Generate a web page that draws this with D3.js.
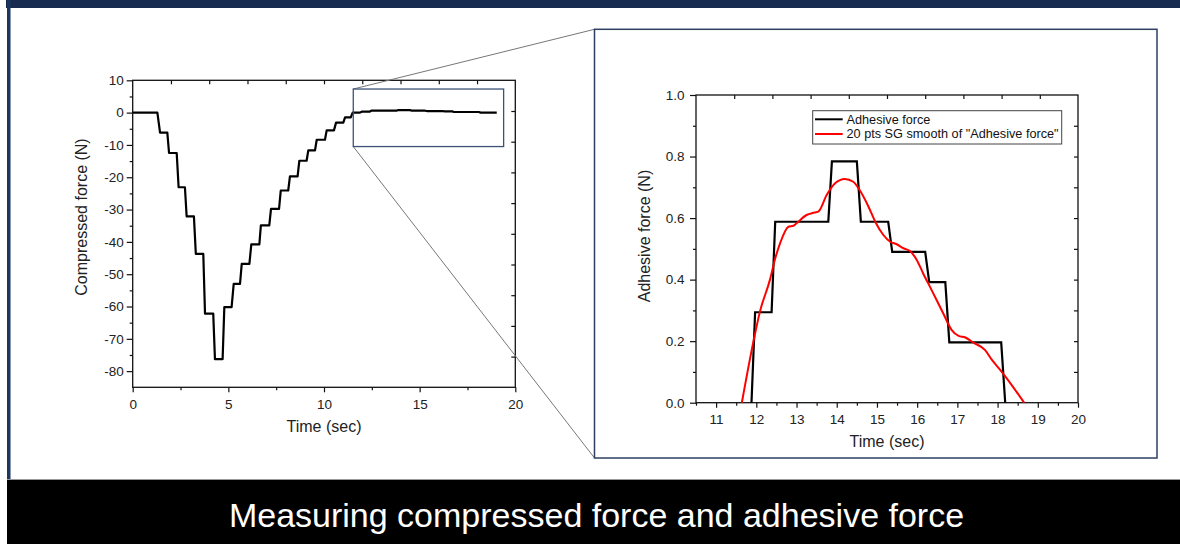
<!DOCTYPE html>
<html><head><meta charset="utf-8">
<script src="https://cdn.jsdelivr.net/npm/d3@7"></script>
<style>
html,body{margin:0;padding:0;background:#fff;}
svg{display:block;font-family:"Liberation Sans",Arial,sans-serif;}
</style></head><body>
<svg id="c" width="1180" height="544"></svg>
<script>
// ---------- data ----------
const compTime = [0,1.29,1.43,1.81,1.9,2.3,2.4,2.73,2.82,3.2,3.3,3.69,3.78,4.21,4.3,4.7,4.79,5.17,5.28,5.61,5.7,6.1,6.2,6.62,6.7,7.14,7.23,7.65,7.74,8.13,8.22,8.62,8.71,9.09,9.18,9.53,9.62,10.05,10.14,10.52,10.63,11.01,11.1,11.4,11.5];
const compForce = [0,0,-6.2,-6.2,-12.5,-12.5,-23.1,-23.1,-32.1,-32.1,-43.7,-43.7,-62.2,-62.2,-76.3,-76.3,-60.2,-60.2,-53,-53,-46.8,-46.8,-40.8,-40.8,-34.9,-34.9,-29.8,-29.8,-24.1,-24.1,-19.7,-19.7,-14.9,-14.9,-11.7,-11.7,-8.4,-8.4,-5.5,-5.5,-3.1,-3.1,-1.5,-1.5,0];
const compEndTime = [19.03];
const compEndForce = [0];

const adhTime = [11.88,11.97,12.38,12.47,13.79,13.88,14.5,14.6,15.28,15.38,16.2,16.3,16.7,16.8,18.09,18.19];
const adhForce = [0,0.294,0.294,0.588,0.588,0.784,0.784,0.588,0.588,0.49,0.49,0.392,0.392,0.196,0.196,0];

const smoothTime = [11.64,11.93,12.09,12.34,12.46,12.59,12.8,12.92,13.0,13.25,13.45,13.55,13.75,13.96,14.2,14.41,14.57,14.79,14.97,15.16,15.33,15.49,15.66,15.82,15.99,16.15,16.36,16.65,16.86,17.03,17.2,17.4,17.69,17.86,18.07,18.32,18.66];
const smoothForce = [0,0.2,0.296,0.40,0.464,0.518,0.572,0.575,0.583,0.61,0.618,0.622,0.675,0.713,0.727,0.718,0.691,0.637,0.585,0.545,0.523,0.515,0.502,0.493,0.464,0.42,0.366,0.29,0.236,0.217,0.212,0.195,0.171,0.139,0.106,0.063,0];

const leftXTicks = [0,5,10,15,20];
const leftXMinor = [2.5,7.5,12.5,17.5];
const leftYTicks = [10,0,-10,-20,-30,-40,-50,-60,-70,-80];
const leftYMinor = [5,-5,-15,-25,-35,-45,-55,-65,-75];
const rightXTicks = [11,12,13,14,15,16,17,18,19,20];
const rightXMinor = [10.5,11.5,12.5,13.5,14.5,15.5,16.5,17.5,18.5,19.5];
const rightYTicks = [0,0.2,0.4,0.6,0.8,1.0];
const rightYMinor = [0.1,0.3,0.5,0.7,0.9];

const zoomTime = [11.53,19.39];
const zoomForce = [7.3,-10.5];

const xTitle = "Time (sec)";
const leftYTitle = "Compressed force (N)";
const rightYTitle = "Adhesive force (N)";
const legendLabels = ["Adhesive force", "20 pts SG smooth of \"Adhesive force\""];
const seriesColors = ["#000000", "#ff0000"];
const banner = "Measuring compressed force and adhesive force";

// ---------- drawing ----------
const svg = d3.select("#c");

// frame
svg.append("rect").attr("x",0).attr("y",0).attr("width",1180).attr("height",544).attr("fill","#fff");
svg.append("rect").attr("x",6).attr("y",0).attr("width",1174).attr("height",8).attr("fill","#172b50");
svg.append("rect").attr("x",7).attr("y",0).attr("width",3.5).attr("height",479).attr("fill","#1d3560");

const tickFont = 13.5, titleFont = 16;

function styleAxis(g){
  g.select(".domain").remove();
  g.selectAll(".tick line").attr("stroke","#111").attr("stroke-width",1.2);
  g.selectAll(".tick text").attr("fill","#222").attr("font-size",tickFont)
    .attr("font-family","'Liberation Sans',Arial,sans-serif");
}

function panel(P, x, y, opts){
  const g = svg.append("g");
  g.append("g").attr("transform",`translate(0,${P.y0})`)
    .call(d3.axisBottom(x).tickValues(opts.xt).tickSize(5).tickPadding(7).tickFormat(opts.xf)).call(styleAxis);
  g.append("g").attr("transform",`translate(0,${P.y0})`)
    .call(d3.axisBottom(x).tickValues(opts.xm).tickSize(3).tickFormat("")).call(styleAxis);
  g.append("g").attr("transform",`translate(${P.x0},0)`)
    .call(d3.axisLeft(y).tickValues(opts.yt).tickSize(6).tickPadding(opts.ypad).tickFormat(opts.yf)).call(styleAxis);
  g.append("g").attr("transform",`translate(${P.x0},0)`)
    .call(d3.axisLeft(y).tickValues(opts.ym).tickSize(3).tickFormat("")).call(styleAxis);
  const tx = d3.scaleLinear().domain([0,10]).range([P.x0,P.x1]);
  const ty = d3.scaleLinear().domain([0,10]).range([P.y0,P.y1]);
  g.append("g").attr("transform",`translate(0,${P.y1})`)
    .call(d3.axisTop(tx).tickValues(d3.range(1,10)).tickSize(-4).tickFormat("")).call(styleAxis);
  g.append("g").attr("transform",`translate(${P.x1},0)`)
    .call(d3.axisRight(ty).tickValues(d3.range(1,10)).tickSize(-4).tickFormat("")).call(styleAxis);
  g.append("rect").attr("x",P.x0).attr("y",P.y1).attr("width",P.x1-P.x0).attr("height",P.y0-P.y1)
    .attr("fill","none").attr("stroke","#111").attr("stroke-width",1.3);
  return g;
}

// ---- left chart ----
const L = {x0:132.7, x1:515.3, y0:387.3, y1:80.3};
const xL = d3.scaleLinear().domain([0,20]).range([L.x0,L.x1]);
const yL = d3.scaleLinear().domain([-85,10]).range([L.y0,L.y1]);
panel(L, xL, yL, {xt:leftXTicks, xm:leftXMinor, xf:d=>String(d), yt:leftYTicks, ym:leftYMinor, yf:d=>String(d), ypad:3});

const leftT = compTime.concat(adhTime, compEndTime);
const leftF = compForce.concat(adhForce, compEndForce);
const lineL = d3.line().x(i=>xL(leftT[i])).y(i=>yL(leftF[i]));
svg.append("path").attr("d", lineL(d3.range(leftT.length)))
  .attr("fill","none").attr("stroke","#000").attr("stroke-width",2.2).attr("stroke-linejoin","round");

svg.append("text").attr("x",(L.x0+L.x1)/2).attr("y",432).attr("text-anchor","middle")
  .attr("font-size",titleFont).attr("fill","#222").text(xTitle);
svg.append("text").attr("transform","translate(86.7,217) rotate(-90)").attr("text-anchor","middle")
  .attr("font-size",titleFont).attr("fill","#222").text(leftYTitle);

// ---- right chart ----
const R = {x0:696, x1:1078, y0:402.7, y1:95};
const xR = d3.scaleLinear().domain([10.5,20]).range([R.x0,R.x1]);
const yR = d3.scaleLinear().domain([0,1]).range([R.y0,R.y1]);
panel(R, xR, yR, {xt:rightXTicks, xm:rightXMinor, xf:d=>String(d), yt:rightYTicks, ym:rightYMinor, yf:d3.format(".1f"), ypad:5.5});

const lineA = d3.line().x(i=>xR(adhTime[i])).y(i=>yR(adhForce[i]));
svg.append("path").attr("d", lineA(d3.range(adhTime.length)))
  .attr("fill","none").attr("stroke",seriesColors[0]).attr("stroke-width",2.2);
const lineS = d3.line().curve(d3.curveMonotoneX).x(i=>xR(smoothTime[i])).y(i=>yR(smoothForce[i]));
svg.append("path").attr("d", lineS(d3.range(smoothTime.length)))
  .attr("fill","none").attr("stroke",seriesColors[1]).attr("stroke-width",2);

svg.append("text").attr("x",(R.x0+R.x1)/2).attr("y",447).attr("text-anchor","middle")
  .attr("font-size",titleFont).attr("fill","#222").text(xTitle);
svg.append("text").attr("transform","translate(650,236) rotate(-90)").attr("text-anchor","middle")
  .attr("font-size",titleFont).attr("fill","#222").text(rightYTitle);

// legend
const lg = svg.append("g");
lg.append("rect").attr("x",812.7).attr("y",110.7).attr("width",249).attr("height",33.3)
  .attr("fill","#fff").attr("stroke","#444").attr("stroke-width",1);
legendLabels.forEach((lab,i)=>{
  const cy = 119.3 + i*14.7;
  lg.append("line").attr("x1",815).attr("x2",842.7).attr("y1",cy).attr("y2",cy)
    .attr("stroke",seriesColors[i]).attr("stroke-width",2);
  lg.append("text").attr("x",846.5).attr("y",cy+4.4).attr("font-size",12.7).attr("fill","#111").text(lab);
});

// ---- zoom annotation ----
const zx0 = xL(zoomTime[0]), zx1 = xL(zoomTime[1]);
const zy0 = yL(zoomForce[0]), zy1 = yL(zoomForce[1]);
const PB = {x:594.5, y:29.3, w:562.5, h:428.7};
svg.append("line").attr("x1",zx0).attr("y1",zy0).attr("x2",PB.x).attr("y2",PB.y)
  .attr("stroke","#777").attr("stroke-width",1);
svg.append("line").attr("x1",zx0).attr("y1",zy1).attr("x2",PB.x).attr("y2",PB.y+PB.h)
  .attr("stroke","#777").attr("stroke-width",1);
svg.append("rect").attr("x",zx0).attr("y",zy0).attr("width",zx1-zx0).attr("height",zy1-zy0)
  .attr("fill","none").attr("stroke","#3c5278").attr("stroke-width",1.3);
svg.append("rect").attr("x",PB.x).attr("y",PB.y).attr("width",PB.w).attr("height",PB.h)
  .attr("fill","none").attr("stroke","#2e3f64").attr("stroke-width",1.5);

// ---- banner ----
svg.append("rect").attr("x",7).attr("y",479).attr("width",1173).attr("height",65).attr("fill","#000");
svg.append("line").attr("x1",7).attr("x2",1180).attr("y1",479.5).attr("y2",479.5).attr("stroke","#999").attr("stroke-width",1);
svg.append("text").attr("x",596.5).attr("y",527).attr("text-anchor","middle")
  .attr("font-size",34).attr("fill","#fff").text(banner);
</script>
</body></html>
